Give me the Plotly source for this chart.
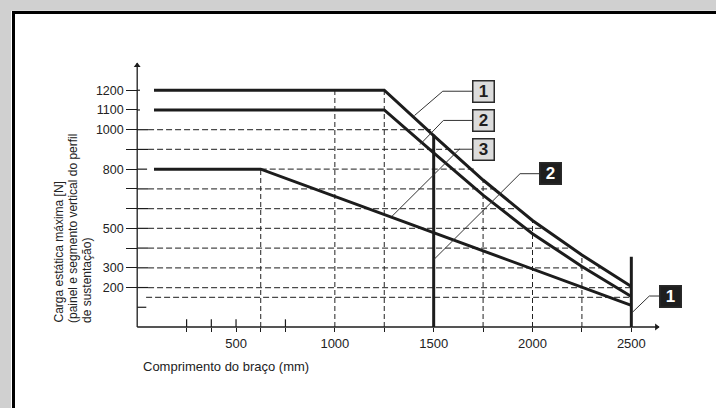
import plotly.graph_objects as go

W, H = 716, 408
FONT = "Liberation Sans, Arial, Helvetica, sans-serif"

# ---------------- data ----------------
curve1_x = [85, 1250, 1500, 1750, 2000, 2250, 2500]
curve1_y = [1200, 1200, 970, 745, 540, 365, 205]
curve2_x = [85, 1250, 1500, 1750, 2000, 2250, 2500]
curve2_y = [1100, 1100, 882, 668, 473, 307, 155]
curve3_x = [85, 625, 2500]
curve3_y = [800, 800, 110]

limit_x = [1500, 2500]          # solid vertical limit lines
limit_top = [975, 356]

vgrid_x = [625, 1000, 1250, 1750, 2000, 2250]
vgrid_top = [800, 1200, 1200, 745, 540, 365]

hgrid_y = [1000, 900, 800, 700, 600, 500, 400, 300, 200, 150]
hgrid_start = [55, 55, 625, 55, 55, 55, 55, 55, 55, 45]
hgrid_end = [1486, 1638, 1709, 1826, 1912, 2059, 2180, 2342, 2494, 2494]

stub_y = [1200, 1100, 1000, 900, 800, 700, 600, 500, 400, 300, 200, 100]
stub_end = [14, 14, 55, 55, 50, 55, 55, 55, 55, 55, 55, 46]

ytick_vals = [1200, 1100, 1000, 900, 800, 700, 600, 500, 400, 300, 200]
ytick_text = ["1200", "1100", "1000", "", "800", "", "", "500", "", "300", "200"]
xtick_vals = [250, 375, 500, 625, 750, 1000, 1250, 1500, 1750, 2000, 2250, 2500]
xtick_text = ["", "", "500", "", "", "1000", "", "1500", "", "2000", "", "2500"]
xminor_vals = [250, 375, 500, 750]

label_text = ["1", "2", "3", "2", "1"]
label_x = [1754, 1754, 1754, 2090, 2698]
label_y = [1195, 1047, 901, 777, 154]
label_dark = [False, False, False, True, True]

leader_x = [[1694, 1546, 1403], [1694, 1549, 1431], [1694, 1630, 1288],
            [2033, 1937, 1502], [2640, 2591, 2503]]
leader_y = [[1195, 1195, 1072], [1047, 1047, 925], [901, 901, 560],
            [777, 777, 343], [157, 157, 72]]

x_axis_end = 2640
y_axis_end = 1338

y_title_lines = ["Carga estática máxima [N]",
                 "(painel e segmento vertical do perfil",
                 "de sustentação)"]
y_title_px = [58, 72.5, 86.5]
x_title = "Comprimento do braço (mm)"

# ---------------- scales ----------------
X0_PX, X_SCALE = 137.2, 0.19765
Y0_PX, Y_SCALE = 327.0, 0.1973
X_RANGE = [-X0_PX / X_SCALE, (W - X0_PX) / X_SCALE]
Y_RANGE = [(Y0_PX - H) / Y_SCALE, Y0_PX / Y_SCALE]


def segs(xs0, ys0, xs1, ys1):
    X, Y = [], []
    for a, b, c, d in zip(xs0, ys0, xs1, ys1):
        X += [a, c, None]
        Y += [b, d, None]
    return X, Y


fig = go.Figure()
INK = "#1c1c1c"

# horizontal dashed grid
hx, hy = segs(hgrid_start, hgrid_y, hgrid_end, hgrid_y)
fig.add_trace(go.Scatter(x=hx, y=hy, mode="lines",
                         line=dict(color="#4a4a4a", width=1.2, dash="6px,3px")))
# vertical dashed grid
vx, vy = segs(vgrid_x, [0] * len(vgrid_x), vgrid_x, vgrid_top)
fig.add_trace(go.Scatter(x=vx, y=vy, mode="lines",
                         line=dict(color="#222222", width=1, dash="5px,3px")))
# y tick stubs right of axis
sx, sy = segs([0] * len(stub_y), stub_y, stub_end, stub_y)
fig.add_trace(go.Scatter(x=sx, y=sy, mode="lines", line=dict(color=INK, width=1.2)))
# minor x ticks above axis
mx, my = segs(xminor_vals, [0] * len(xminor_vals), xminor_vals, [39] * len(xminor_vals))
fig.add_trace(go.Scatter(x=mx, y=my, mode="lines", line=dict(color=INK, width=1.2)))

# axes
fig.add_trace(go.Scatter(x=[0, x_axis_end], y=[0, 0], mode="lines",
                         line=dict(color=INK, width=1.3)))
fig.add_trace(go.Scatter(x=[0, 0], y=[0, y_axis_end], mode="lines",
                         line=dict(color=INK, width=1.3)))
fig.add_trace(go.Scatter(x=[0], y=[y_axis_end - 12], mode="markers",
                         marker=dict(symbol="triangle-up", size=6, color=INK)))
fig.add_trace(go.Scatter(x=[x_axis_end - 12], y=[0], mode="markers",
                         marker=dict(symbol="triangle-right", size=6, color=INK)))

# solid limit lines
lx, ly = segs(limit_x, [0] * len(limit_x), limit_x, limit_top)
fig.add_trace(go.Scatter(x=lx, y=ly, mode="lines", line=dict(color=INK, width=3)))

# curves
for cx, cy in [(curve1_x, curve1_y), (curve2_x, curve2_y), (curve3_x, curve3_y)]:
    fig.add_trace(go.Scatter(x=cx, y=cy, mode="lines",
                             line=dict(color=INK, width=3)))

# leader lines
for lxs, lys in zip(leader_x, leader_y):
    fig.add_trace(go.Scatter(x=lxs, y=lys, mode="lines",
                             line=dict(color="#333333", width=1)))

# label boxes
for t, x, y, dark in zip(label_text, label_x, label_y, label_dark):
    fig.add_annotation(x=x, y=y, xref="x", yref="y", text="<b>%s</b>" % t,
                       showarrow=False, width=20, height=20, borderpad=0,
                       bgcolor="#1e1e1e" if dark else "#dcdcdc",
                       bordercolor="#2a2a2a", borderwidth=1.5,
                       font=dict(family=FONT, size=17,
                                 color="white" if dark else "#1e1e1e"))

# titles
for txt, px in zip(y_title_lines, y_title_px):
    fig.add_annotation(x=px / W, y=(H - 325) / H, xref="paper", yref="paper",
                       text=txt, textangle=-90, showarrow=False,
                       xanchor="center", yanchor="bottom",
                       font=dict(family=FONT, size=12, color="#222222"))
fig.add_annotation(x=141 / W, y=(H - 366) / H, xref="paper", yref="paper",
                   text=x_title, showarrow=False, xanchor="left", yanchor="middle",
                   font=dict(family=FONT, size=13, color="#222222"))

# frame
fig.add_shape(type="rect", xref="paper", yref="paper", x0=11 / W, x1=1,
              y0=0, y1=1 - 10.7 / H, fillcolor="white", line=dict(width=0),
              layer="below")
fig.add_shape(type="line", xref="paper", yref="paper", x0=13.5 / W, x1=13.5 / W,
              y0=0, y1=1 - 11 / H, line=dict(color="black", width=3), layer="below")
fig.add_shape(type="line", xref="paper", yref="paper", x0=12 / W, x1=1,
              y0=1 - 12.5 / H, y1=1 - 12.5 / H, line=dict(color="black", width=3),
              layer="below")

fig.update_layout(
    width=W, height=H, autosize=False, showlegend=False,
    margin=dict(l=0, r=0, t=0, b=0, pad=0),
    paper_bgcolor="#d0d0d0", plot_bgcolor="#d0d0d0",
    font=dict(family=FONT, size=13, color="#222222"),
    xaxis=dict(range=X_RANGE, showgrid=False, zeroline=False, showline=False,
               tickmode="array", tickvals=xtick_vals, ticktext=xtick_text,
               ticks="outside", ticklen=4, tickwidth=1.2, tickcolor=INK,
               anchor="free", position=(H - Y0_PX) / H,
               tickfont=dict(family=FONT, size=13, color="#222222"),
               fixedrange=True),
    yaxis=dict(range=Y_RANGE, showgrid=False, zeroline=False, showline=False,
               tickmode="array", tickvals=ytick_vals, ticktext=ytick_text,
               ticks="outside", ticklen=11, tickwidth=1.2, tickcolor=INK,
               anchor="free", position=X0_PX / W,
               tickfont=dict(family=FONT, size=12.5, color="#222222"),
               fixedrange=True),
)

fig.write_html(
    "out.html",
    config={"displayModeBar": False},
    post_script="document.documentElement.style.margin='0';"
                "document.body.style.margin='0';"
                "document.body.style.overflow='hidden';",
)
